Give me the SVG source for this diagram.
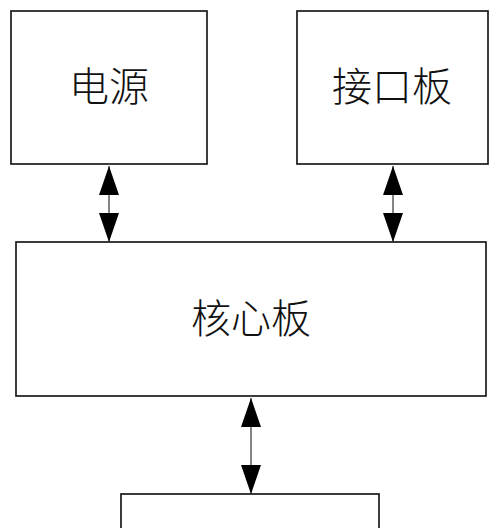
<svg xmlns="http://www.w3.org/2000/svg" width="500" height="528" viewBox="0 0 500 528">
<style>
.box{fill:#fff;stroke:#1a1a1a;stroke-width:1.7}
.lbl{font-family:"Noto Sans CJK SC","Noto Sans CJK JP",sans-serif;font-size:40px;fill:#111;text-anchor:middle;font-weight:300}
.conn{stroke:#333;stroke-width:1.2;fill:none;marker-start:url(#ah);marker-end:url(#ah)}
</style>
<defs>
<marker id="ah" viewBox="0 0 29 20" refX="29" refY="10" markerWidth="29" markerHeight="20" markerUnits="userSpaceOnUse" orient="auto-start-reverse">
<path d="M0,0 L29,10 L0,20 z" fill="#000"/>
</marker>
</defs>
<rect width="500" height="528" fill="#fff"/>
<g id="power">
<rect class="box" x="11" y="11" width="196" height="153"/>
<text class="lbl" x="109" y="101">电源</text>
</g>
<g id="interface">
<rect class="box" x="297" y="11" width="191" height="153"/>
<text class="lbl" x="392" y="101">接口板</text>
</g>
<g id="core">
<rect class="box" x="16" y="242" width="470" height="154"/>
<text class="lbl" x="251" y="333">核心板</text>
</g>
<g id="bottom">
<rect class="box" x="121" y="494" width="258" height="60"/>
</g>
<g id="connectors">
<line class="conn" x1="109" y1="166" x2="109" y2="242"/>
<line class="conn" x1="393" y1="166" x2="393" y2="242"/>
<line class="conn" x1="251" y1="398" x2="251" y2="494"/>
</g>
</svg>
